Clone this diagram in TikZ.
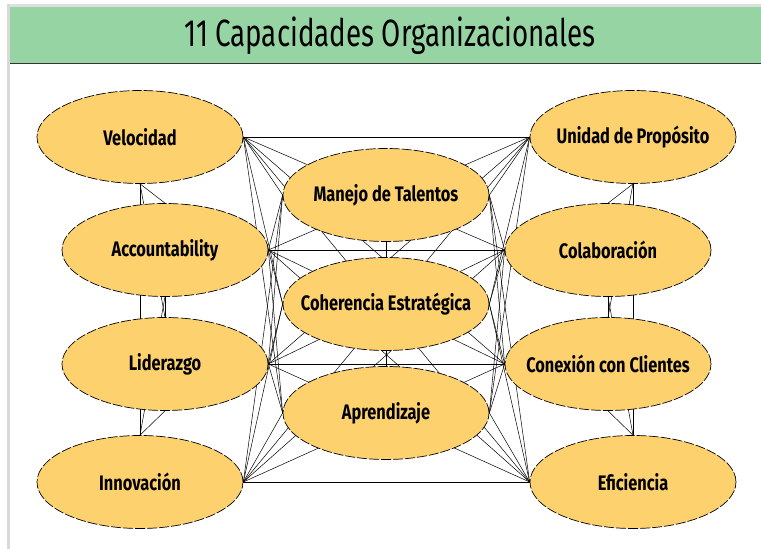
\documentclass[tikz,border=0pt]{standalone}
\usepackage{fontspec}
\setmainfont{Fira Sans}[FakeStretch=0.78]
\newfontfamily\titlefont{Fira Sans}[FakeStretch=0.73]
\usetikzlibrary{shapes.geometric,backgrounds}
\definecolor{capfill}{RGB}{252,209,110}
\definecolor{barfill}{RGB}{150,212,164}

\begin{document}
\begin{tikzpicture}[x=1pt, y=-1pt]
	\tikzstyle{every node}=[font=\bfseries\fontsize{21}{24}\selectfont]
	\tikzstyle{capacidad}=[ellipse, draw, fill=capfill, dash pattern=on 10pt off 2pt, line width=0.7pt, minimum width=206pt, minimum height=93pt, inner xsep=-40pt, inner ysep=0pt]
	\tikzstyle{enlace}=[line width=0.5pt]

	%marco
	\useasboundingbox (0,0) rectangle (761,549);
	\fill[gray!25] (7,4) rectangle (761,7);
	\fill[gray!30] (7,4) rectangle (10,549);
	\fill[barfill] (10,7) rectangle (761,63);
	\draw[line width=1.2pt, black!80] (10,63.5) -- (761,63.5);
	\node[font=\titlefont\fontsize{38}{42}\selectfont] (titulo) at (390,36) {11 Capacidades Organizacionales};

	%capacidades
	\node[capacidad] (vel) at (140,137) {Velocidad};
	\node[capacidad] (acc) at (165,250) {Accountability};
	\node[capacidad] (lid) at (165,364) {Liderazgo};
	\node[capacidad] (inn) at (140,482) {Innovación};
	\node[capacidad] (man) at (386,195) {Manejo de Talentos};
	\node[capacidad] (coh) at (386,304) {Coherencia Estratégica};
	\node[capacidad] (apr) at (386,413) {Aprendizaje};
	\node[capacidad] (uni) at (633,137) {Unidad de Propósito};
	\node[capacidad] (col) at (608,250) {Colaboración};
	\node[capacidad] (con) at (608,364) {Conexión con Clientes};
	\node[capacidad] (efi) at (633,482) {Eficiencia};

	%enlaces
	\begin{pgfonlayer}{background}
	\foreach \a/\b in {vel/acc,vel/lid,vel/inn,acc/lid,acc/inn,lid/inn,
			uni/col,uni/con,uni/efi,col/con,col/efi,con/efi,
			man/coh,man/apr,coh/apr}
		\draw[enlace] (\a.south) -- (\b.north);
	\foreach \a in {vel,acc,lid,inn}
		\foreach \b in {man,coh,apr,uni,col,con,efi}
			\draw[enlace] (\a.east) -- (\b.west);
	\foreach \a in {man,coh,apr}
		\foreach \b in {uni,col,con,efi}
			\draw[enlace] (\a.east) -- (\b.west);
	\end{pgfonlayer}
\end{tikzpicture}
\end{document}
